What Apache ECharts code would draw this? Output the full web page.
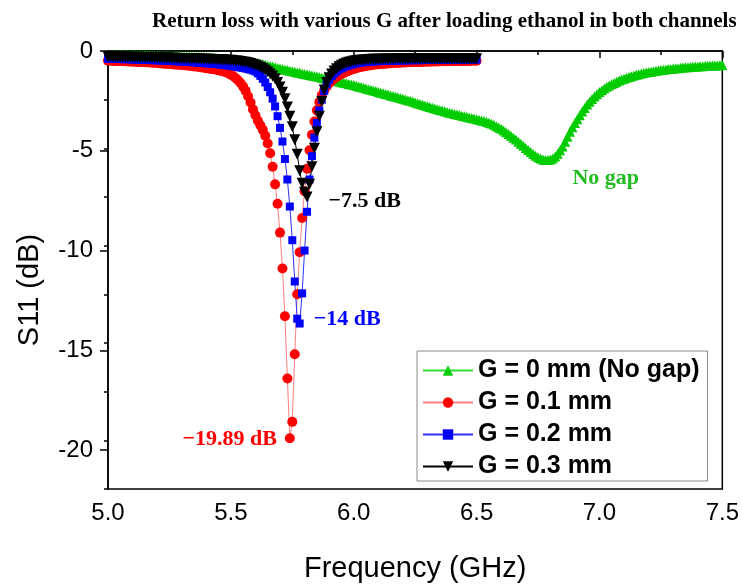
<!DOCTYPE html>
<html>
<head>
<meta charset="utf-8">
<script src="https://cdn.jsdelivr.net/npm/echarts@6/dist/echarts.min.js"></script>
<style>
  html, body { margin: 0; padding: 0; background: #fff; }
  #chart { width: 742px; height: 588px; }
</style>
</head>
<body>
<div id="chart"></div>
<script>
// Frequency sweep: 5.00 GHz upward in 0.01 GHz steps
const SWEEP_START = 5.0;
const SWEEP_STEP = 0.01;

// S11 (dB), G = 0 mm (no gap), 5.00 - 7.50 GHz
const s11NoGap = [
  -0.20,-0.20,-0.20,-0.20,-0.20,-0.21,-0.21,-0.21,-0.21,-0.21,
  -0.21,-0.21,-0.22,-0.22,-0.22,-0.22,-0.23,-0.23,-0.23,-0.24,
  -0.24,-0.24,-0.24,-0.25,-0.25,-0.25,-0.26,-0.26,-0.26,-0.27,
  -0.27,-0.27,-0.28,-0.28,-0.29,-0.29,-0.30,-0.30,-0.31,-0.31,
  -0.32,-0.33,-0.34,-0.35,-0.36,-0.37,-0.38,-0.39,-0.40,-0.41,
  -0.42,-0.44,-0.45,-0.47,-0.49,-0.50,-0.52,-0.54,-0.56,-0.58,
  -0.60,-0.63,-0.66,-0.68,-0.71,-0.74,-0.77,-0.80,-0.84,-0.87,
  -0.90,-0.93,-0.96,-0.98,-1.01,-1.04,-1.07,-1.10,-1.12,-1.15,
  -1.18,-1.21,-1.23,-1.26,-1.28,-1.31,-1.34,-1.37,-1.40,-1.42,
  -1.45,-1.48,-1.51,-1.54,-1.57,-1.60,-1.63,-1.66,-1.69,-1.72,
  -1.75,-1.78,-1.82,-1.85,-1.89,-1.92,-1.96,-1.99,-2.03,-2.06,
  -2.10,-2.14,-2.17,-2.21,-2.24,-2.28,-2.31,-2.35,-2.38,-2.42,
  -2.45,-2.49,-2.53,-2.56,-2.60,-2.64,-2.68,-2.72,-2.76,-2.80,
  -2.84,-2.88,-2.92,-2.95,-2.99,-3.03,-3.06,-3.10,-3.13,-3.17,
  -3.20,-3.23,-3.26,-3.29,-3.32,-3.35,-3.38,-3.41,-3.44,-3.47,
  -3.50,-3.53,-3.57,-3.60,-3.64,-3.68,-3.73,-3.79,-3.86,-3.93,
  -4.00,-4.08,-4.17,-4.26,-4.35,-4.45,-4.55,-4.66,-4.77,-4.87,
  -4.98,-5.09,-5.19,-5.29,-5.38,-5.46,-5.52,-5.57,-5.60,-5.60,
  -5.58,-5.52,-5.42,-5.28,-5.10,-4.90,-4.66,-4.41,-4.15,-3.92,
  -3.70,-3.50,-3.30,-3.11,-2.93,-2.75,-2.61,-2.47,-2.34,-2.22,
  -2.10,-2.01,-1.92,-1.84,-1.77,-1.70,-1.64,-1.58,-1.52,-1.47,
  -1.42,-1.38,-1.34,-1.30,-1.26,-1.22,-1.19,-1.16,-1.13,-1.10,
  -1.08,-1.06,-1.04,-1.02,-1.00,-0.98,-0.96,-0.95,-0.93,-0.92,
  -0.90,-0.89,-0.88,-0.86,-0.85,-0.84,-0.83,-0.82,-0.81,-0.80,
  -0.79,-0.78,-0.78,-0.77,-0.76,-0.75,-0.75,-0.74,-0.74,-0.73,
  -0.72
];

// S11 (dB), G = 0.1 mm, 5.00 - 6.50 GHz
const s11G01 = [
  -0.50,-0.50,-0.51,-0.51,-0.52,-0.52,-0.53,-0.53,-0.54,-0.54,
  -0.55,-0.55,-0.56,-0.56,-0.57,-0.58,-0.58,-0.59,-0.60,-0.61,
  -0.62,-0.63,-0.64,-0.65,-0.66,-0.67,-0.68,-0.69,-0.70,-0.71,
  -0.72,-0.73,-0.74,-0.76,-0.77,-0.79,-0.80,-0.82,-0.84,-0.86,
  -0.88,-0.90,-0.92,-0.94,-0.96,-0.99,-1.02,-1.05,-1.09,-1.15,
  -1.22,-1.30,-1.40,-1.52,-1.66,-1.83,-2.05,-2.32,-2.65,-3.00,
  -3.30,-3.58,-3.82,-4.05,-4.35,-4.75,-5.25,-5.95,-6.85,-7.85,
  -9.33,-11.17,-13.63,-16.82,-19.89,-19.05,-15.58,-12.50,-10.34,-8.58,
  -7.20,-6.05,-5.10,-4.30,-3.62,-3.05,-2.62,-2.28,-2.02,-1.82,
  -1.66,-1.54,-1.43,-1.34,-1.26,-1.19,-1.12,-1.06,-1.01,-0.96,
  -0.92,-0.88,-0.85,-0.82,-0.79,-0.77,-0.75,-0.73,-0.71,-0.69,
  -0.68,-0.67,-0.66,-0.65,-0.64,-0.63,-0.62,-0.61,-0.61,-0.60,
  -0.59,-0.59,-0.58,-0.58,-0.57,-0.57,-0.56,-0.56,-0.56,-0.55,
  -0.55,-0.55,-0.54,-0.54,-0.54,-0.53,-0.53,-0.53,-0.53,-0.52,
  -0.52,-0.52,-0.52,-0.51,-0.51,-0.51,-0.51,-0.51,-0.50,-0.50,
  -0.50
];

// S11 (dB), G = 0.2 mm, 5.00 - 6.50 GHz
const s11G02 = [
  -0.40,-0.40,-0.40,-0.41,-0.41,-0.41,-0.42,-0.42,-0.42,-0.43,
  -0.43,-0.43,-0.44,-0.44,-0.45,-0.45,-0.46,-0.46,-0.47,-0.47,
  -0.48,-0.48,-0.49,-0.49,-0.50,-0.51,-0.51,-0.52,-0.53,-0.53,
  -0.54,-0.55,-0.56,-0.56,-0.57,-0.58,-0.59,-0.60,-0.61,-0.62,
  -0.63,-0.64,-0.65,-0.66,-0.67,-0.68,-0.70,-0.71,-0.73,-0.75,
  -0.77,-0.79,-0.81,-0.83,-0.85,-0.87,-0.90,-0.93,-0.96,-1.00,
  -1.05,-1.15,-1.28,-1.43,-1.62,-1.85,-2.12,-2.45,-2.85,-3.35,
  -3.95,-4.65,-5.55,-6.60,-7.99,-9.72,-11.84,-13.75,-14.00,-12.45,
  -10.25,-8.26,-6.60,-5.40,-4.45,-3.70,-3.05,-2.50,-2.05,-1.72,
  -1.48,-1.30,-1.16,-1.05,-0.96,-0.89,-0.83,-0.78,-0.74,-0.70,
  -0.67,-0.64,-0.62,-0.60,-0.58,-0.57,-0.56,-0.55,-0.54,-0.53,
  -0.52,-0.52,-0.51,-0.51,-0.50,-0.50,-0.49,-0.49,-0.49,-0.48,
  -0.48,-0.48,-0.48,-0.47,-0.47,-0.47,-0.47,-0.47,-0.46,-0.46,
  -0.46,-0.46,-0.46,-0.46,-0.46,-0.45,-0.45,-0.45,-0.45,-0.45,
  -0.45,-0.45,-0.45,-0.45,-0.44,-0.44,-0.44,-0.44,-0.44,-0.44,
  -0.44
];

// S11 (dB), G = 0.3 mm, 5.00 - 6.50 GHz
const s11G03 = [
  -0.30,-0.30,-0.30,-0.30,-0.31,-0.31,-0.31,-0.31,-0.31,-0.32,
  -0.32,-0.32,-0.32,-0.33,-0.33,-0.33,-0.33,-0.34,-0.34,-0.34,
  -0.35,-0.35,-0.35,-0.36,-0.36,-0.36,-0.37,-0.37,-0.37,-0.38,
  -0.38,-0.38,-0.39,-0.39,-0.40,-0.40,-0.40,-0.41,-0.41,-0.42,
  -0.42,-0.43,-0.43,-0.44,-0.44,-0.45,-0.45,-0.46,-0.46,-0.47,
  -0.48,-0.49,-0.51,-0.52,-0.54,-0.56,-0.58,-0.61,-0.64,-0.68,
  -0.72,-0.77,-0.83,-0.90,-0.98,-1.07,-1.17,-1.29,-1.43,-1.62,
  -1.85,-2.12,-2.45,-2.88,-3.35,-3.89,-4.56,-5.30,-6.15,-6.80,
  -7.25,-7.50,-6.85,-5.95,-5.00,-4.15,-3.35,-2.60,-2.00,-1.62,
  -1.38,-1.18,-1.03,-0.91,-0.81,-0.73,-0.67,-0.62,-0.58,-0.55,
  -0.52,-0.50,-0.48,-0.47,-0.46,-0.45,-0.44,-0.43,-0.43,-0.42,
  -0.42,-0.42,-0.41,-0.41,-0.41,-0.41,-0.41,-0.40,-0.40,-0.40,
  -0.40,-0.40,-0.40,-0.40,-0.40,-0.40,-0.40,-0.40,-0.40,-0.40,
  -0.40,-0.40,-0.40,-0.40,-0.40,-0.40,-0.40,-0.40,-0.40,-0.40,
  -0.40,-0.40,-0.40,-0.40,-0.40,-0.40,-0.40,-0.40,-0.40,-0.40,
  -0.40
];

const seriesNames = ['G = 0 mm (No gap)', 'G = 0.1 mm', 'G = 0.2 mm', 'G = 0.3 mm'];
const titleText = 'Return loss with various G after loading ethanol in both channels';
const noGapNote = 'No gap';

const SANS = 'Liberation Sans, Arial, sans-serif';
const SERIF = 'Liberation Serif, Times New Roman, serif';

// Pair each S11 value with its sweep frequency
function toPoints(values) {
  return values.map((v, i) => [+(SWEEP_START + i * SWEEP_STEP).toFixed(2), v]);
}

// Mark the resonance (deepest point) with a text label
function withMinLabel(values, label) {
  const pts = toPoints(values);
  let k = 0;
  values.forEach((v, i) => { if (v < values[k]) k = i; });
  const text = label.text || ('\u2212' + Math.abs(values[k]) + ' dB');
  pts[k] = {
    value: pts[k],
    label: Object.assign({
      show: true,
      formatter: text,
      fontFamily: SERIF,
      fontWeight: 'bold',
      fontSize: 22
    }, label.style)
  };
  return pts;
}

function lineSeries(name, data, sym, color, lineColor, extra) {
  return Object.assign({
    type: 'line',
    name: name,
    data: data,
    symbol: sym,
    symbolSize: 10,
    showSymbol: true,
    itemStyle: { color: color },
    lineStyle: { color: lineColor, width: 1 },
    emphasis: { disabled: true },
    silent: true,
    animation: false
  }, extra || {});
}

const chart = echarts.init(document.getElementById('chart'), null, { renderer: 'canvas' });

chart.setOption({
  backgroundColor: '#fff',
  animation: false,
  title: {
    text: titleText,
    left: 147,
    top: 6,
    textStyle: { fontFamily: SERIF, fontWeight: 'bold', fontSize: 21, color: '#000' }
  },
  legend: {
    orient: 'vertical',
    left: 417,
    top: 351,
    padding: [7, 8, 2, 5],
    itemWidth: 50,
    itemHeight: 13,
    itemGap: 7,
    borderColor: '#8a8a8a',
    borderWidth: 1,
    backgroundColor: '#fff',
    textStyle: { fontFamily: SANS, fontWeight: 'bold', fontSize: 25, color: '#000' },
    data: seriesNames
  },
  grid: [
    { left: 108, right: 15, top: 51, bottom: 88, show: true, borderColor: '#000', borderWidth: 1.5 },
    { left: 108, right: 15, top: 51, height: 399.1 }
  ],
  xAxis: [
    {
      type: 'value', gridIndex: 0, min: 5, max: 7.5, interval: 0.5,
      name: 'Frequency (GHz)', nameLocation: 'middle', nameGap: 65,
      nameTextStyle: { fontFamily: SANS, fontSize: 29, color: '#000' },
      axisLine: { lineStyle: { color: '#000', width: 1.5 } },
      axisTick: { inside: false, length: 7, lineStyle: { color: '#000', width: 1.5 } },
      minorTick: { show: true, splitNumber: 2, length: 4, lineStyle: { color: '#000', width: 1.5 } },
      splitLine: { show: false },
      axisLabel: { fontFamily: SANS, fontSize: 24, color: '#000', margin: 12, formatter: v => v.toFixed(1) }
    },
    { type: 'value', gridIndex: 1, min: 5, max: 7.5, show: false }
  ],
  yAxis: [
    {
      type: 'value', gridIndex: 0, min: -22.5, max: 0, interval: 2.5,
      name: 'S11 (dB)', nameLocation: 'middle', nameGap: 64,
      nameTextStyle: { fontFamily: SANS, fontSize: 29, color: '#000', padding: [0, 40, 0, 0] },
      axisLine: { lineStyle: { color: '#000', width: 1.5 } },
      axisTick: { inside: false, length: 4, lineStyle: { color: '#000', width: 1.5 } },
      splitLine: { show: false },
      axisLabel: { show: false }
    },
    {
      type: 'value', gridIndex: 1, min: -20, max: 0, interval: 5,
      axisLine: { show: false },
      axisTick: { inside: false, length: 8, lineStyle: { color: '#000', width: 1.5 } },
      splitLine: { show: false },
      axisLabel: { fontFamily: SANS, fontSize: 24, color: '#000', margin: 15 }
    }
  ],
  series: [
    lineSeries(seriesNames[0],
      withMinLabel(s11NoGap, { text: noGapNote, style: { position: 'right', distance: 22, offset: [0, 18], color: '#22bb22' } }),
      'triangle', '#00cc00', '#33dd33'),
    lineSeries(seriesNames[1],
      withMinLabel(s11G01, { style: { position: 'left', distance: 8, offset: [0, 1], color: '#ff0000' } }),
      'circle', '#ff0000', '#ff8080', { symbolSize: 10 }),
    lineSeries(seriesNames[2],
      withMinLabel(s11G02, { style: { position: 'right', distance: 10, offset: [0, -4], color: '#0000ff' } }),
      'rect', '#0000ff', '#3030ff', { symbolSize: 8 }),
    lineSeries(seriesNames[3],
      withMinLabel(s11G03, { style: { position: 'right', distance: 16, offset: [0, 4], color: '#000' } }),
      'triangle', '#000', '#000', { symbolSize: 11, symbolRotate: 180 })
  ]
});
</script>
</body>
</html>
